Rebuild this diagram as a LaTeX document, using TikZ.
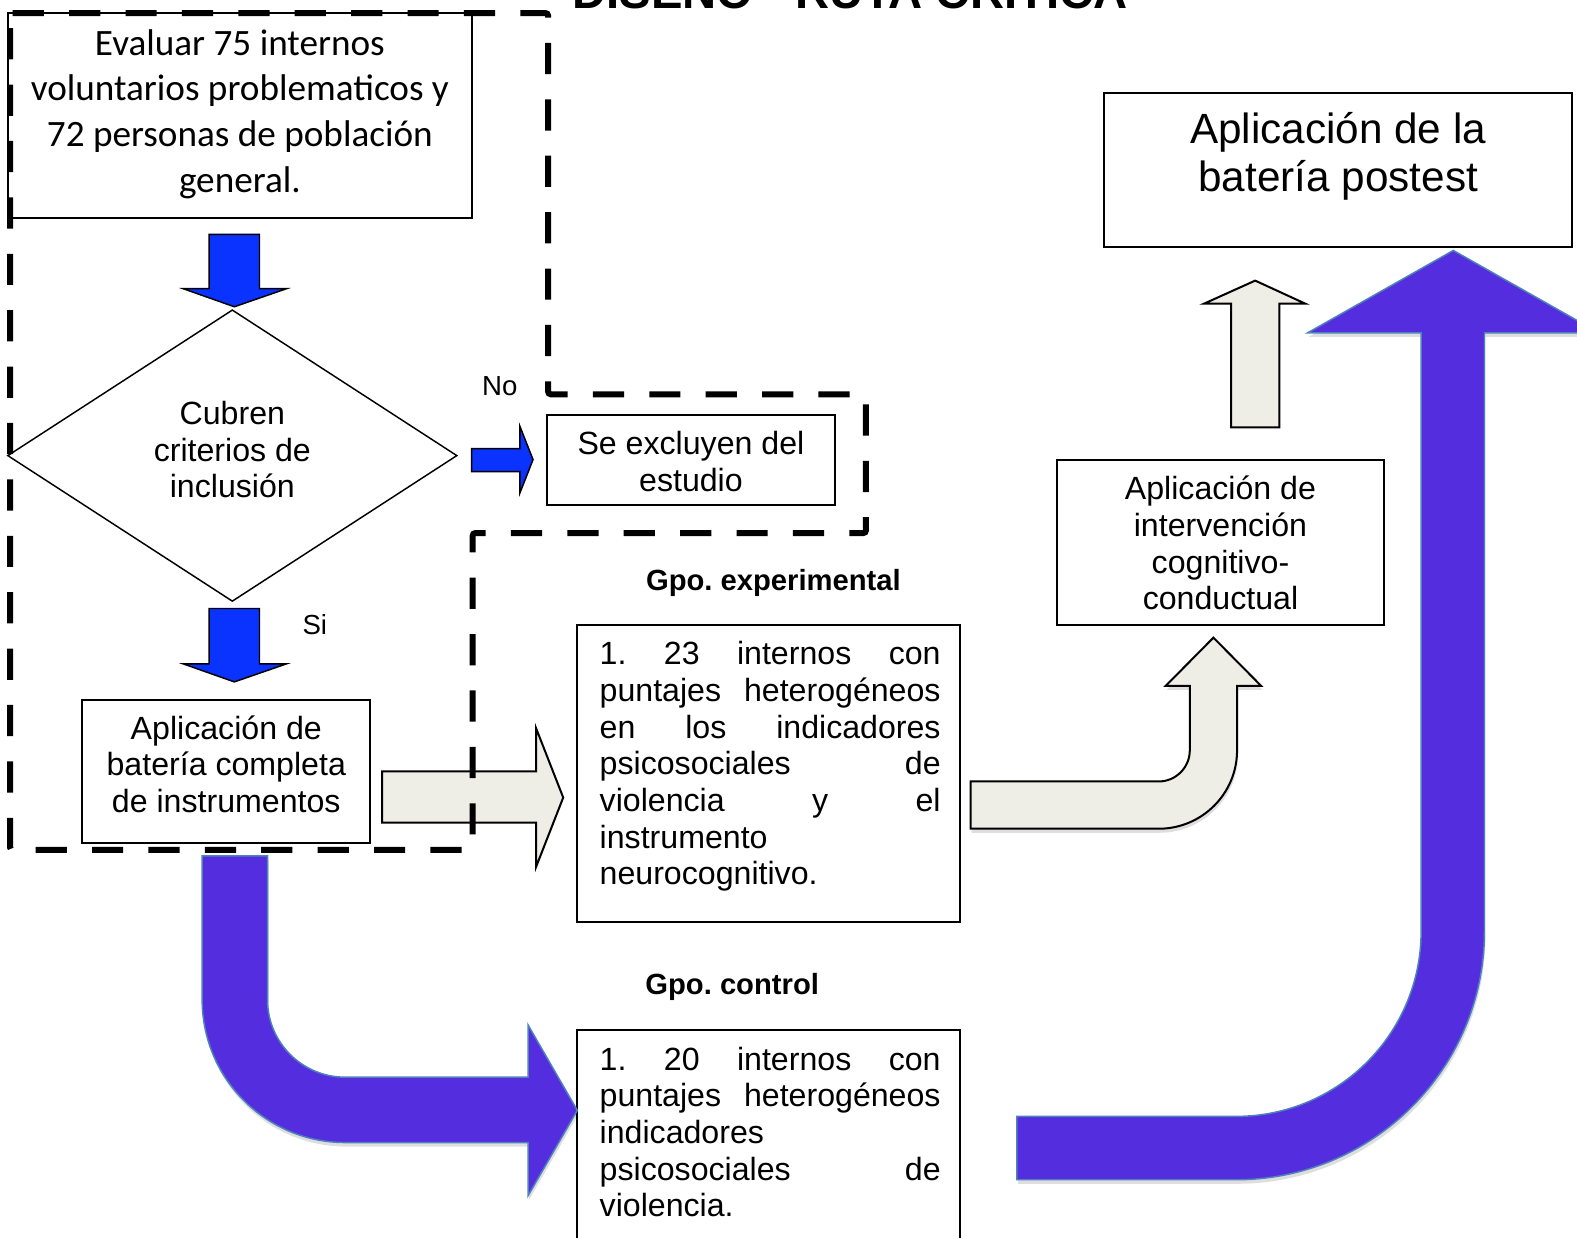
\documentclass[tikz,border=0pt]{standalone}
\usepackage{fontspec}
\setmainfont{Liberation Sans}
\newfontfamily\calibrifont{Carlito}
\usetikzlibrary{shapes.geometric,fit}

\definecolor{arrowblue}{RGB}{10,51,255}
\definecolor{arrowviolet}{RGB}{84,46,222}
\definecolor{violetedge}{RGB}{79,129,189}
\definecolor{paleshaft}{RGB}{238,238,230}

% width of the justified text blocks
\newlength\jw
\setlength\jw{255.7pt}
% centred lines, baseline of the block = baseline of its first line
\newcommand\clines[1]{\vtop{\halign{\hfil##\hfil\cr#1\crcr}}}
% justified line and flush-left line
\newcommand\jline[1]{\hbox to\jw{#1}}
\newcommand\lline[1]{\hbox to\jw{#1\hfil}}
\hbadness=10000
\frenchspacing

\begin{document}
\begin{tikzpicture}[x=0.7543pt, y=-0.7543pt,
  box/.style={draw=black, line width=1.5pt, inner sep=0pt},
  lbl/.style={inner sep=0pt, anchor=base},
  body/.style={font=\fontsize{24.1}{27.5}\selectfont},
  evalfont/.style={font=\calibrifont\fontsize{27.9}{34.2}\selectfont},
  yesno/.style={font=\fontsize{20.7}{24}\selectfont},
  grouplabel/.style={font=\fontsize{21.9}{26}\selectfont\bfseries},
  bigfont/.style={font=\fontsize{31.7}{35.5}\selectfont},
  titlefont/.style={font=\fontsize{35.4}{40}\selectfont\bfseries},
  softshadow/.style={preaction={fill=black, fill opacity=0.13, draw=none,
      transform canvas={shift={(1,4)}}}},
  bluearrow/.style={fill=arrowblue, draw=black, line width=1.1pt},
  palearrow/.style={fill=paleshaft, draw=black, line width=1.5pt},
  violetarrow/.style={fill=arrowviolet, draw=violetedge, line width=1.1pt, softshadow},
  zone/.style={draw=black, line width=4.5pt, dash pattern=on 23.4pt off 18.9pt,
      rounded corners=2pt}]

\useasboundingbox (0,0) rectangle (1568,1230);

% title (runs off the top of the sheet)
\node[lbl, titlefont] (title) at (845,8) {DISEÑO - RUTA CRITICA};

% boxes
\node[box, fit={(8,13) (469,217)}] (eval) {};
\node[draw=black, line width=1.1pt, diamond, inner sep=0pt,
      minimum width=447*0.7543pt, minimum height=290*0.7543pt] (crit) at (231,453) {};
\node[box, fit={(544,413) (830,502)}] (excl) {};
\node[box, fit={(82,696) (368,838)}] (bat) {};
\node[box, fit={(574,621) (955,917)}] (exper) {};
\node[box, fit={(574,1024) (955,1260)}] (ctrl) {};
\node[box, fit={(1051,457) (1376,621)}] (interv) {};
\node[box, fit={(1098,92) (1563,246)}] (post) {};

% texts
\node[lbl, evalfont] (evaltxt) at (238.5,55)
  {\clines{Evaluar 75 internos\cr voluntarios problematicos y\cr 72 personas de población\cr general.}};
\node[lbl, body] (crittxt) at (231,422)
  {\clines{Cubren\cr criterios de\cr inclusión}};
\node[lbl, yesno] (notxt) at (497,393) {No};
\node[lbl, body] (excltxt) at (687,452)
  {\clines{Se excluyen del\cr estudio}};
\node[lbl, yesno] (sitxt) at (313,631) {Si};
\node[lbl, body] (battxt) at (225,735)
  {\clines{Aplicación de\cr batería completa\cr de instrumentos}};
\node[lbl, grouplabel] (exptitle) at (769,587) {Gpo. experimental};
\node[lbl, body, anchor=base west] (exptxt) at (596,661)
  {\vtop{\jline{1.\ 23 internos con}\jline{puntajes heterogéneos}%
   \jline{en los indicadores}\jline{psicosociales de}\jline{violencia y el}%
   \lline{instrumento}\lline{neurocognitivo.}}};
\node[lbl, grouplabel] (ctrltitle) at (728,989) {Gpo. control};
\node[lbl, body, anchor=base west] (ctrltxt) at (596,1064)
  {\vtop{\jline{1.\ 20 internos con}\jline{puntajes heterogéneos}%
   \lline{indicadores}\jline{psicosociales de}\lline{violencia.}}};
\node[lbl, body] (intervtxt) at (1213.5,497)
  {\clines{Aplicación de\cr intervención\cr cognitivo-\cr conductual}};
\node[lbl, bigfont] (posttxt) at (1330.5,143)
  {\clines{Aplicación de la\cr batería postest}};

% blue block arrows
\draw[bluearrow] (208,233) -- (258,233) -- (258,287) -- (285,287) -- (233,305)
  -- (182,287) -- (208,287) -- cycle;
\draw[bluearrow] (208,605) -- (258,605) -- (258,660) -- (285,660) -- (233,678)
  -- (182,660) -- (208,660) -- cycle;
\draw[bluearrow] (469,446) -- (517,446) -- (517,424) -- (530,457) -- (517,490)
  -- (517,469) -- (469,469) -- cycle;

% pale block arrows
\draw[palearrow] (380,767) -- (533,767) -- (533,724) -- (560,793) -- (533,862)
  -- (533,818) -- (380,818) -- cycle;
\draw[palearrow] (1224,425) -- (1224,302) -- (1197,302) -- (1248,279) -- (1298,302)
  -- (1272,302) -- (1272,425) -- cycle;
\draw[palearrow, softshadow] (965,777) -- (1152,777)
  .. controls (1169.1,777) and (1183,763.1) .. (1183,746)
  -- (1183,682) -- (1159,682) -- (1206.5,634) -- (1254,682) -- (1230,682)
  -- (1230,746) .. controls (1230,789.1) and (1195.1,824) .. (1152,824)
  -- (965,824) -- cycle;

% violet bent arrows
\draw[violetarrow] (201,851) -- (266,851) -- (266,994)
  .. controls (266,1036.5) and (300.5,1071) .. (343,1071)
  -- (525,1071) -- (525,1019) -- (574,1104) -- (525,1189) -- (525,1136)
  -- (343,1136) .. controls (264.6,1136) and (201,1072.4) .. (201,994) -- cycle;
\draw[violetarrow] (1011,1110) -- (1229,1110)
  .. controls (1330.6,1110) and (1413,1027.6) .. (1413,926)
  -- (1413,331) -- (1300,331) -- (1445,249) -- (1590,331) -- (1476,331)
  -- (1476,926) .. controls (1476,1062.4) and (1365.4,1173) .. (1229,1173)
  -- (1011,1173) -- cycle;

% dashed outline of the screening stage
\draw[zone] (10,13) -- (545,13) -- (545,392) -- (861,392) -- (861,530)
  -- (470,530) -- (470,845) -- (10,845) -- cycle;
\end{tikzpicture}
\end{document}
